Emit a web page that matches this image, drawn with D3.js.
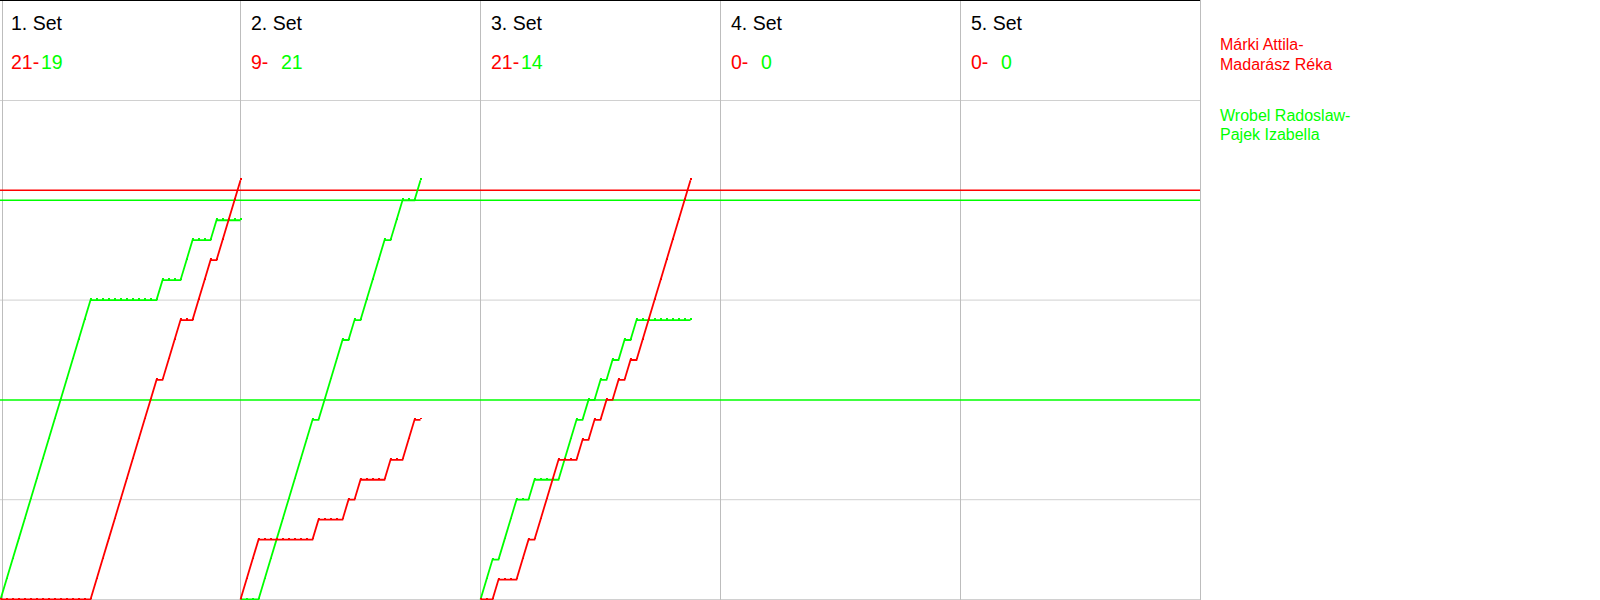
<!DOCTYPE html>
<html>
<head>
<meta charset="utf-8">
<script src="https://cdn.jsdelivr.net/npm/d3@7/dist/d3.min.js"></script>
<style>
  html, body { margin: 0; padding: 0; background: #fff; }
  svg { display: block; }
  text { font-family: "Liberation Sans", Arial, sans-serif; }
</style>
</head>
<body>
<svg id="chart" width="1600" height="600"></svg>
<script>
// ---- data ----
const setLabels = ["1. Set", "2. Set", "3. Set", "4. Set", "5. Set"];
const redFinal = [21, 9, 21, 0, 0];
const greenFinal = [19, 21, 14, 0, 0];
const redTeam = ["Márki Attila-", "Madarász Réka"];
const greenTeam = ["Wrobel Radoslaw-", "Pajek Izabella"];
// rally winners per set as runs: [winner, consecutive points]
const set1Runs = [["G",15],["R",11],["G",1],["R",3],["G",2],["R",3],["G",1],["R",4]];
const set2Runs = [["R",3],["G",9],["R",1],["G",4],["R",1],["G",1],["R",1],["G",4],["R",1],["G",2],["R",2],["G",1]];
const set3Runs = [["G",2],["R",1],["G",3],["R",2],["G",1],["R",4],["G",3],["R",1],["G",1],["R",1],["G",1],["R",1],["G",1],["R",1],["G",1],["R",1],["G",1],["R",9]];
const set4Runs = [];
const set5Runs = [];
const gridValues = [25, 15, 5, 0];
const redRefValues = [20.5];
const greenRefValues = [20, 10];

const RED = "#ff0000", GREEN = "#00ff00";
const ralliesPerSet = 40;

// ---- scales ----
const x = d3.scaleLinear().domain([0, ralliesPerSet * 5]).range([0, 1200]);
const y = d3.scaleLinear().domain([0, 25]).range([599.5, 100.5]);

const svg = d3.select("#chart");

// build cumulative score series from runs
function buildSeries(runs, setIndex) {
  const red = [{k: 0, v: 0}], green = [{k: 0, v: 0}];
  let r = 0, g = 0, k = 0;
  runs.forEach(([w, n]) => {
    for (let i = 0; i < n; i++) {
      k++;
      if (w === "R") r++; else g++;
      red.push({k, v: r});
      green.push({k, v: g});
    }
  });
  const off = setIndex * ralliesPerSet;
  return {
    red: k ? red.map(d => ({k: d.k + off, v: d.v})) : [],
    green: k ? green.map(d => ({k: d.k + off, v: d.v})) : []
  };
}
const allRuns = [set1Runs, set2Runs, set3Runs, set4Runs, set5Runs];
const series = allRuns.map((runs, i) => buildSeries(runs, i));

// ---- grid ----
const grid = svg.append("g");
grid.selectAll("line.h").data(gridValues).join("line")
  .attr("x1", 0).attr("x2", 1200)
  .attr("y1", d => y(d)).attr("y2", d => y(d))
  .attr("stroke", "#d0d0d0").attr("stroke-width", 1);
grid.selectAll("line.v").data(d3.range(0, 6)).join("line")
  .attr("x1", d => Math.max(2.5, x(d * ralliesPerSet) + 0.5))
  .attr("x2", d => Math.max(2.5, x(d * ralliesPerSet) + 0.5))
  .attr("y1", 0).attr("y2", 600)
  .attr("stroke", "#bdbdbd").attr("stroke-width", 1);
svg.append("line").attr("x1", 0).attr("x2", 1200).attr("y1", 0.5).attr("y2", 0.5)
  .attr("stroke", "#000").attr("stroke-width", 1);

// ---- reference lines ----
svg.append("g").selectAll("line").data(redRefValues).join("line")
  .attr("x1", 0).attr("x2", 1200).attr("y1", d => y(d)).attr("y2", d => y(d))
  .attr("stroke", RED).attr("stroke-width", 1.5);
svg.append("g").selectAll("line").data(greenRefValues).join("line")
  .attr("x1", 0).attr("x2", 1200).attr("y1", d => y(d)).attr("y2", d => y(d))
  .attr("stroke", GREEN).attr("stroke-width", 1.5);

// ---- series ----
const line = d3.line().x(d => x(d.k) + 0.5).y(d => y(d.v));
series.forEach(s => {
  [["green", GREEN], ["red", RED]].forEach(([key, col]) => {
    const pts = s[key];
    if (!pts.length) return;
    svg.append("path").datum(pts)
      .attr("d", line).attr("fill", "none")
      .attr("stroke", col).attr("stroke-width", 1.8)
      .attr("stroke-linejoin", "miter");
    svg.append("g").selectAll("rect").data(pts).join("rect")
      .attr("x", d => x(d.k) - 0.5).attr("y", d => y(d.v) - 2)
      .attr("width", 2).attr("height", 1.5)
      .attr("fill", col).attr("shape-rendering", "crispEdges");
  });
});

// ---- headers ----
const head = svg.append("g");
setLabels.forEach((lab, i) => {
  const left = x(i * ralliesPerSet);
  head.append("text").attr("x", left + 11).attr("y", 29.5)
    .attr("font-size", "19.5px").attr("fill", "#000").text(lab);
  head.append("text").attr("x", left + 11).attr("y", 68.5)
    .attr("font-size", "19.5px").attr("fill", RED).text(redFinal[i] + "-");
  head.append("text").attr("x", left + 41).attr("y", 68.5)
    .attr("font-size", "19.5px").attr("fill", GREEN).text(greenFinal[i]);
});

// ---- legend ----
const leg = svg.append("g");
redTeam.forEach((t, i) => {
  leg.append("text").attr("x", 1220).attr("y", 50 + i * 19.5)
    .attr("font-size", "16px").attr("fill", RED).text(t);
});
greenTeam.forEach((t, i) => {
  leg.append("text").attr("x", 1220).attr("y", 120.5 + i * 19.5)
    .attr("font-size", "16px").attr("fill", GREEN).text(t);
});
</script>
</body>
</html>
